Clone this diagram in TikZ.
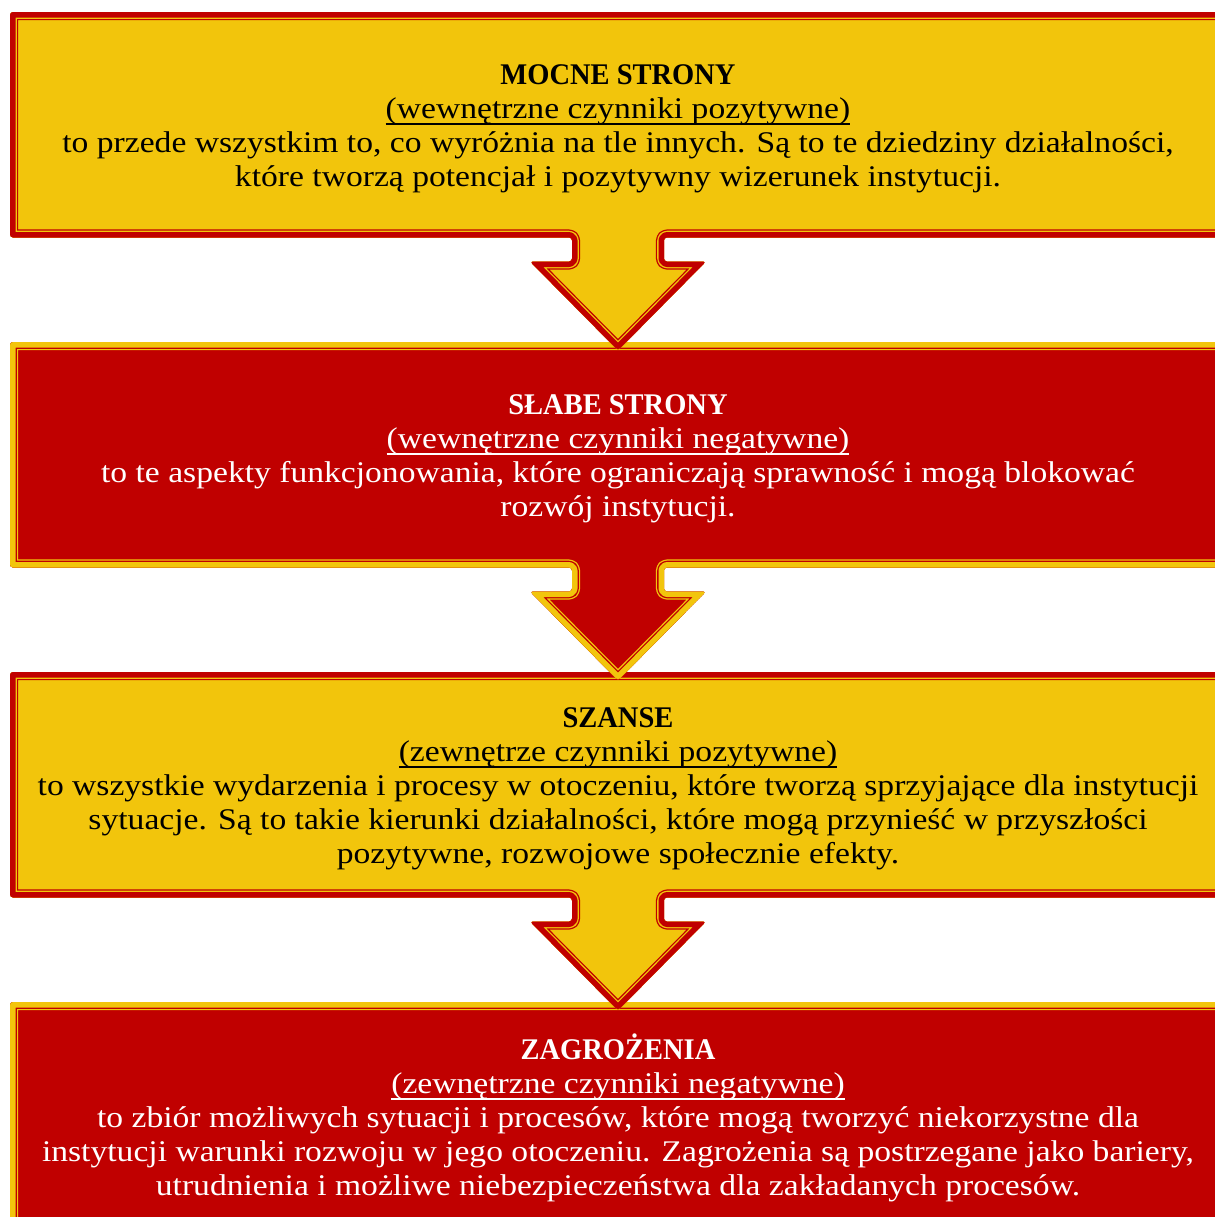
\documentclass[tikz,border=0pt]{standalone}
\usepackage{fontspec}
\setmainfont[FakeStretch=1.12]{Liberation Serif}
\newfontfamily\swotTitle[FakeStretch=0.95]{Liberation Serif}
\definecolor{swotRed}{RGB}{192,0,0}
\definecolor{swotYellow}{RGB}{242,197,12}
% underline running through the descenders
\newcommand{\undl}[1]{\leavevmode\setbox0\hbox{#1}\rlap{\rule[-0.2em]{\wd0}{0.06em}}\box0}
% panel with a thick-thin frame drawn on the inner side of its outline
\newcommand{\swotPanel}[3]{%
  \begin{scope}[rounded corners=1.5pt, line join=round]
    \clip #1;
    \fill[#2] #1;
    \draw[#3, line width=8.1pt] #1;
    \draw[#2, line width=6.8pt] #1;
    \draw[#3, line width=5.5pt] #1;
  \end{scope}}
\tikzset{
  panel text/.style={align=center, inner sep=0pt,
    font=\fontsize{15}{17}\selectfont},
  panel title/.style={font=\swotTitle\bfseries}
}
\begin{document}
\begin{tikzpicture}[x=0.5pt, y=-0.5pt]
% page of 1215 x 1217 px, y pointing down
\useasboundingbox (0,0) rectangle (1215,1217);
\fill[white] (0,0) rectangle (1215,1217);
\clip (0,0) rectangle (1215,1217);
% Panels, the last one first so that every arrow lies over the next panel
\swotPanel{(10,1002) -- (1226,1002) -- (1226,1228) -- (10,1228) -- cycle}{swotRed}{swotYellow}
\swotPanel{(10,672) -- (1226,672) -- (1226,897.5) -- (664,897.5) -- (664,921.5) -- (706,921.5) -- (618,1010.5) -- (530,921.5) -- (572,921.5) -- (572,897.5) -- (10,897.5) -- cycle}{swotYellow}{swotRed}
\swotPanel{(10,342) -- (1226,342) -- (1226,567.5) -- (664,567.5) -- (664,591.5) -- (706,591.5) -- (618,680.5) -- (530,591.5) -- (572,591.5) -- (572,567.5) -- (10,567.5) -- cycle}{swotRed}{swotYellow}
\swotPanel{(10,12) -- (1226,12) -- (1226,237.5) -- (664,237.5) -- (664,261.5) -- (706,261.5) -- (618,350.5) -- (530,261.5) -- (572,261.5) -- (572,237.5) -- (10,237.5) -- cycle}{swotYellow}{swotRed}
% Texts
\node[panel text, text=black] (mocne) at (618,129) {{\swotTitle\bfseries MOCNE STRONY}\\
  \undl{(wewnętrzne czynniki pozytywne)}\\
  to przede wszystkim to, co wyróżnia na tle innych. Są to te dziedziny działalności,\\
  które tworzą potencjał i pozytywny wizerunek instytucji.};
\node[panel text, text=white] (slabe) at (618,459) {{\swotTitle\bfseries SŁABE STRONY}\\
  \undl{(wewnętrzne czynniki negatywne)}\\
  to te aspekty funkcjonowania, które ograniczają sprawność i mogą blokować\\
  rozwój instytucji.};
\node[panel text, text=black] (szanse) at (618,789) {{\swotTitle\bfseries SZANSE}\\
  \undl{(zewnętrze czynniki pozytywne)}\\
  to wszystkie wydarzenia i procesy w otoczeniu, które tworzą sprzyjające dla instytucji\\
  sytuacje. Są to takie kierunki działalności, które mogą przynieść w przyszłości\\
  pozytywne, rozwojowe społecznie efekty.};
\node[panel text, text=white] (zagrozenia) at (618,1118) {{\swotTitle\bfseries ZAGROŻENIA}\\
  \undl{(zewnętrzne czynniki negatywne)}\\
  to zbiór możliwych sytuacji i procesów, które mogą tworzyć niekorzystne dla\\
  instytucji warunki rozwoju w jego otoczeniu. Zagrożenia są postrzegane jako bariery,\\
  utrudnienia i możliwe niebezpieczeństwa dla zakładanych procesów.};
\end{tikzpicture}
\end{document}
